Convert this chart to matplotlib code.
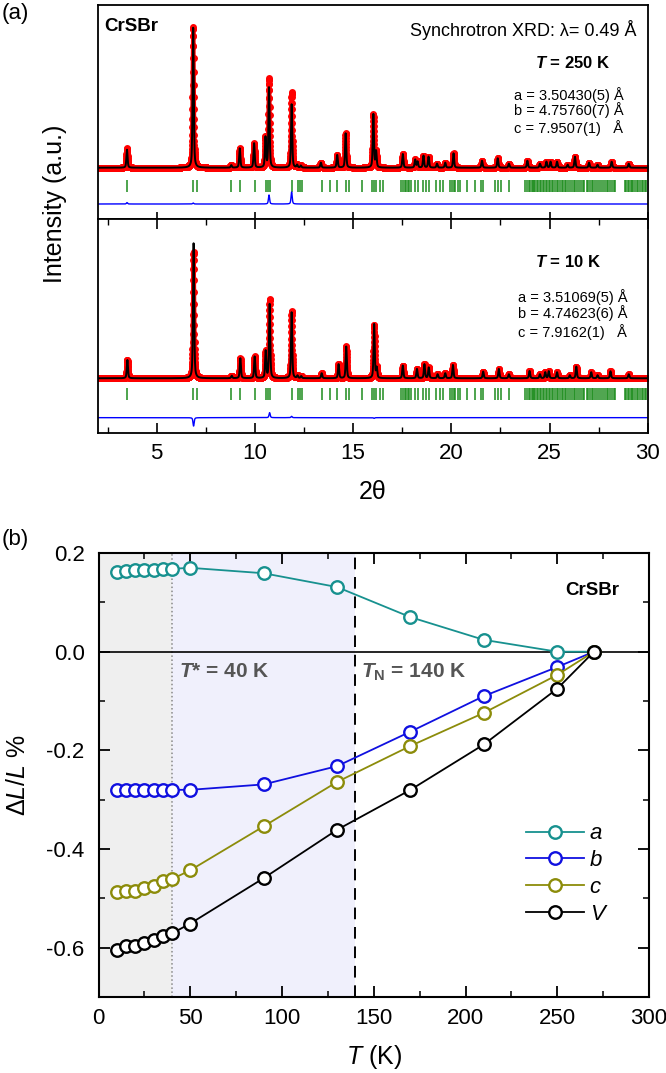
import numpy as np
import matplotlib
matplotlib.use("Agg")
import matplotlib.pyplot as plt
from matplotlib.ticker import MultipleLocator

plt.rcParams['font.family'] = ['Liberation Sans', 'DejaVu Sans']
plt.rcParams['mathtext.fontset'] = 'custom'
plt.rcParams['mathtext.rm'] = 'Liberation Sans'
plt.rcParams['mathtext.it'] = 'Liberation Sans:italic'
plt.rcParams['mathtext.bf'] = 'Liberation Sans:bold'
plt.rcParams['mathtext.bfit'] = 'Liberation Sans:italic:bold'
plt.rcParams['axes.unicode_minus'] = False

# ---- (a) synchrotron XRD, peaks (a.u.) ----
pos_250 = [3.49, 6.86, 8.80, 9.23, 9.96, 10.54, 10.72, 11.87, 12.15, 12.34, 13.36, 14.19,
           14.62, 16.03, 16.17, 17.53, 18.16, 18.28, 18.58, 18.84, 19.27, 19.69, 20.11,
           21.56, 22.36, 22.93, 23.87, 24.51, 24.84, 25.05, 25.38, 25.92, 26.29, 27.01,
           27.44, 28.16, 29.03]
obs_250 = [19.4, 141, 2.5, 19.4, 24.4, 30, 89, 75.4, 2.7, 2, 5, 12.7,
           34.4, 53.4, 16, 13.7, 8, 6, 12, 11, 4, 5, 14.4,
           7, 9.4, 4, 7, 4, 6, 6, 6, 3, 11, 5,
           3, 6, 4]
calc_250 = [18.0, 140, 2.5, 19.4, 24.4, 30, 80, 63.4, 2.7, 2, 5, 12.7,
            34.4, 53.4, 16, 13.7, 8, 6, 12, 11, 4, 5, 14.4,
            7, 9.4, 4, 7, 4, 6, 6, 6, 3, 11, 5,
            3, 6, 4]

pos_10 = [3.51, 6.88, 8.82, 9.26, 9.99, 10.55, 10.75, 11.87, 12.17, 12.36, 13.40, 14.26,
          14.65, 16.07, 16.20, 17.53, 18.25, 18.63, 18.85, 19.30, 19.69, 20.08, 21.62,
          22.42, 22.93, 23.98, 24.51, 24.78, 24.96, 25.38, 26.03, 26.36, 27.12, 27.44,
          28.10, 29.03]
obs_10 = [18.3, 126.6, 2.5, 20, 21.7, 27, 79, 67.3, 2.5, 2, 5, 14,
          31.7, 53.3, 10, 12.7, 9.3, 14, 10.7, 4, 5, 13.3, 6.7,
          9.3, 4, 7.3, 4, 6, 7, 6, 3, 11.7, 6, 3,
          7, 4]
calc_10 = [18.3, 135, 2.5, 20, 21.7, 27, 74, 66, 2.5, 2, 5, 14,
           31.7, 54, 10, 12.7, 9.3, 14, 10.7, 4, 5, 13.3, 6.7,
           9.3, 4, 7.3, 4, 6, 7, 6, 3, 11.7, 6, 3,
           7, 4]

bragg = [3.49, 6.86, 7.06, 8.80, 9.23, 9.99, 10.59, 10.67, 10.76, 11.87, 12.21, 12.30,
         12.38, 13.40, 13.82, 14.19, 14.62, 14.79, 15.44, 15.98, 16.05, 16.17, 16.35,
         16.52, 17.43, 17.53, 17.62, 17.70, 17.77, 17.85, 17.96, 18.16, 18.28, 18.58,
         18.70, 18.84, 19.23, 19.40, 19.57, 19.91, 20.03, 20.12, 20.20, 20.32, 20.45,
         20.82, 21.21, 21.52, 21.60, 22.24, 22.38, 22.55, 22.93, 23.77, 23.86, 23.93,
         24.02, 24.09, 24.15, 24.22, 24.28, 24.36, 24.41, 24.50, 24.57, 24.66, 24.72,
         24.80, 24.86, 24.95, 25.03, 25.10, 25.19, 25.27, 25.36, 25.45, 25.52, 25.61,
         25.70, 25.76, 25.85, 25.96, 26.05, 26.13, 26.22, 26.31, 26.42, 26.50, 26.58,
         26.69, 26.77, 26.88, 26.96, 27.06, 27.15, 27.22, 27.33, 27.41, 27.52, 27.61,
         27.70, 27.82, 27.90, 27.99, 28.10, 28.18, 28.27, 28.35, 28.84, 28.90, 28.98,
         29.05, 29.12, 29.20, 29.27, 29.36, 29.44, 29.51, 29.60, 29.68, 29.75, 29.84,
         29.93]

# ---- (b) thermal expansion ----
T = [10, 15, 20, 25, 30, 35, 40, 50, 90, 130, 170, 210, 250, 270]
dl_a = [0.161, 0.163, 0.165, 0.165, 0.166, 0.167, 0.168, 0.170, 0.159, 0.131, 0.070, 0.024, 0.0, 0.0]
dl_b = [-0.281, -0.281, -0.281, -0.281, -0.281, -0.281, -0.280, -0.280, -0.269, -0.232, -0.162, -0.090, -0.031, 0.0]
dl_c = [-0.487, -0.485, -0.485, -0.478, -0.474, -0.465, -0.461, -0.443, -0.354, -0.264, -0.191, -0.124, -0.047, 0.0]
dl_V = [-0.605, -0.597, -0.597, -0.590, -0.585, -0.576, -0.571, -0.551, -0.459, -0.361, -0.280, -0.188, -0.075, 0.0]


def profile(x, pos, amp, fwhm=0.07, eta=0.5):
    # pseudo-Voigt peaks on a flat background
    y = np.zeros_like(x)
    for p, h in zip(pos, amp):
        d = (x - p) / (fwhm / 2)
        y += h * (eta / (1 + d ** 2) + (1 - eta) * np.exp(-np.log(2) * d ** 2))
    return y


def xrd_panel(ax, pos, obs, calc, ylim, tick_y, diff_y):
    tt = np.arange(2.0, 30.0, 0.005)
    yo = profile(tt, pos, obs)
    yc = profile(tt, pos, calc)
    ax.plot(tt, yo, color='red', lw=3.0, marker='o', ms=5, mew=0, zorder=2)
    ax.plot(tt, yc, color='black', lw=1.4, zorder=3)
    ax.vlines(bragg, tick_y[0], tick_y[1], color='#1c8c1c', lw=1.1)
    ax.plot(tt, yo - yc + diff_y, color='blue', lw=1.0)
    ax.set_xlim(2, 30)
    ax.set_ylim(*ylim)
    ax.set_yticks([])
    ax.xaxis.set_major_locator(MultipleLocator(5))
    ax.xaxis.set_minor_locator(MultipleLocator(2.5))
    for s in ax.spines.values():
        s.set_linewidth(1.3)


fig = plt.figure(figsize=(6.66, 10.73), dpi=100)

ax1 = fig.add_axes([0.1467, 0.7959, 0.8260, 0.1994])
ax2 = fig.add_axes([0.1467, 0.5965, 0.8260, 0.1994])

xrd_panel(ax1, pos_250, obs_250, calc_250, (-51.3, 162.7), (-12.3, -24.0), -36.3)
xrd_panel(ax2, pos_10, obs_10, calc_10, (-54.7, 159.3), (-10.0, -21.7), -39.4)

ax1.tick_params(axis='x', which='major', direction='in', length=5, width=1.2,
                labelbottom=False, top=False)
ax1.tick_params(axis='x', which='minor', length=0)
ax2.tick_params(axis='x', which='major', direction='in', length=7, width=1.2, top=True,
                labelsize=16, pad=7)
ax2.tick_params(axis='x', which='minor', direction='in', length=4, width=1.0, top=True)
ax2.set_xlabel('2θ', fontsize=18, labelpad=12)

fig.text(55 / 666, 1 - 204 / 1073, 'Intensity (a.u.)', rotation=90, fontsize=18,
         ha='center', va='center')
fig.text(2 / 666, 1 - 13 / 1073, '(a)', fontsize=16, ha='left', va='center')
fig.text(2 / 666, 1 - 540 / 1073, '(b)', fontsize=16, ha='left', va='center')

ax1.text(0.0115, 0.899, 'CrSBr', transform=ax1.transAxes, fontsize=13.5,
         fontweight='bold', ha='left', va='center')
ax1.text(0.980, 0.883, 'Synchrotron XRD: λ= 0.49 Å', transform=ax1.transAxes,
         fontsize=13, ha='right', va='center')
ax1.text(0.863, 0.729, r'$\mathbfit{T}$ = 250 K', transform=ax1.transAxes, fontsize=12,
         fontweight='bold', ha='center', va='center')
for yy, s in zip([0.579, 0.509, 0.424],
                 ['a = 3.50430(5) Å', 'b = 4.75760(7) Å', 'c = 7.9507(1)   Å']):
    ax1.text(0.757, yy, s, transform=ax1.transAxes, fontsize=10.5, ha='left', va='center')

ax2.text(0.855, 0.799, r'$\mathbfit{T}$ = 10 K', transform=ax2.transAxes, fontsize=12,
         fontweight='bold', ha='center', va='center')
for yy, s in zip([0.637, 0.559, 0.473],
                 ['a = 3.51069(5) Å', 'b = 4.74623(6) Å', 'c = 7.9162(1)   Å']):
    ax2.text(0.764, yy, s, transform=ax2.transAxes, fontsize=10.5, ha='left', va='center')

# ---- panel (b) ----
ax = fig.add_axes([0.1480, 0.0708, 0.8265, 0.4138])
ax.axvspan(0, 40, color='#efefef', lw=0, zorder=0)
ax.axvspan(40, 140, color='#f0f0fc', lw=0, zorder=0)
ax.axvline(40, color='#888888', ls=':', lw=1.1, zorder=1)
ax.axvline(140, color='black', ls=(0, (6, 4)), lw=1.4, zorder=1)
ax.axhline(0, color='black', lw=1.2, zorder=1)

series = [(dl_a, '#17918f', 'a'), (dl_b, '#1010e0', 'b'),
          (dl_c, '#8c8c0a', 'c'), (dl_V, 'black', 'V')]
for vals, col, lab in series:
    ax.plot(T, vals, color=col, lw=1.3, marker='o', ms=9, mfc='white', mec=col,
            mew=1.7, label=lab, zorder=3)

ax.set_xlim(0, 300)
ax.set_ylim(-0.7, 0.2)
ax.xaxis.set_major_locator(MultipleLocator(50))
ax.xaxis.set_minor_locator(MultipleLocator(25))
ax.yaxis.set_major_locator(MultipleLocator(0.2))
ax.yaxis.set_minor_locator(MultipleLocator(0.1))
ax.yaxis.set_major_formatter(plt.FuncFormatter(lambda v, p: f'{v:.1f}'))
ax.tick_params(which='major', direction='in', length=8, width=1.3, top=True, right=True,
               labelsize=16)
ax.tick_params(which='minor', direction='in', length=4, width=1.1, top=True, right=True)
ax.tick_params(axis='x', pad=8)
ax.tick_params(axis='y', pad=10)
for s in ax.spines.values():
    s.set_linewidth(1.5)

ax.set_xlabel(r'$T$ (K)', fontsize=18, labelpad=10)
ax.set_ylabel(r'Δ$L$/$L$ %', fontsize=18, labelpad=12)

ax.text(284, 0.124, 'CrSBr', fontsize=13.5, fontweight='bold', ha='right', va='center')
ax.text(44, -0.041, r'$\mathbfit{T}$* = 40 K', fontsize=15, fontweight='bold',
        color='#555555', ha='left', va='center')
ax.text(143, -0.041, r'$\mathbfit{T}_\mathbf{N}$ = 140 K', fontsize=15, fontweight='bold',
        color='#555555', ha='left', va='center')

ax.legend(loc='center left', bbox_to_anchor=(0.777, 0.277), frameon=False,
          prop={'style': 'italic', 'size': 16}, handlelength=2.6, handletextpad=0.25,
          labelspacing=0.26, borderpad=0, borderaxespad=0)

fig.savefig('out.png', dpi=100)
